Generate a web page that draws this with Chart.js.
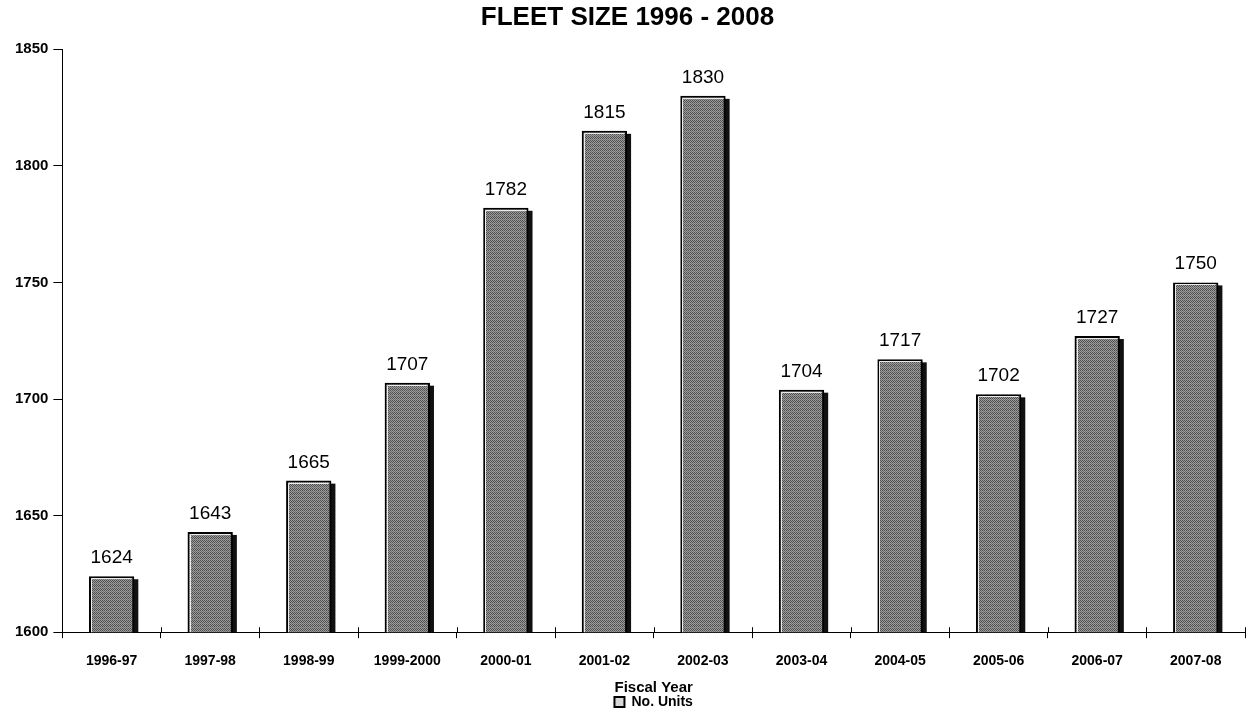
<!DOCTYPE html>
<html>
<head>
<meta charset="utf-8">
<script src="https://cdn.jsdelivr.net/npm/chart.js@4.4.1/dist/chart.umd.min.js"></script>
<style>
html,body{margin:0;padding:0;background:#fff;}
#wrap{width:1248px;height:716px;}
</style>
</head>
<body>
<div id="wrap"><canvas id="c" width="1248" height="716"></canvas></div>
<script>
const categories = ["1996-97","1997-98","1998-99","1999-2000","2000-01","2001-02","2002-03","2003-04","2004-05","2005-06","2006-07","2007-08"];
const units = [1624,1643,1665,1707,1782,1815,1830,1704,1717,1702,1727,1750];
const yTicks = [1600,1650,1700,1750,1800,1850];

const FONT = '"Liberation Sans", Arial, sans-serif';

function makePattern(){
  const p = document.createElement('canvas');
  p.width = 4; p.height = 4;
  const g = p.getContext('2d');
  g.fillStyle = '#9c9c9c'; g.fillRect(0,0,4,4);
  g.fillStyle = '#4e4e4e';
  g.fillRect(0,0,1,1); g.fillRect(2,0,1,1);
  g.fillRect(1,1,1,1); g.fillRect(3,1,1,1);
  g.fillRect(0,2,1,1); g.fillRect(2,2,1,1);
  g.fillStyle = '#6e6e6e';
  g.fillRect(1,3,1,1); g.fillRect(3,3,1,1);
  return document.getElementById('c').getContext('2d').createPattern(p,'repeat');
}

const shadowPlugin = {
  id:'shadowBars',
  beforeDatasetsDraw(chart){
    const ctx = chart.ctx;
    const meta = chart.getDatasetMeta(0);
    const bottom = chart.scales.y.getPixelForValue(chart.scales.y.min);
    ctx.save();
    ctx.fillStyle = '#111';
    meta.data.forEach(bar=>{
      const w = bar.width;
      const left = bar.x - w/2;
      ctx.fillRect(left+4, bar.y+3, w, bottom - bar.y - 3);
    });
    ctx.restore();
  }
};

const innerLinePlugin = {
  id:'innerLine',
  afterDatasetsDraw(chart){
    const ctx = chart.ctx;
    const meta = chart.getDatasetMeta(0);
    const bottom = chart.scales.y.getPixelForValue(chart.scales.y.min);
    ctx.save();
    ctx.strokeStyle = 'rgba(255,255,255,0.85)';
    ctx.lineWidth = 1;
    meta.data.forEach(bar=>{
      const w = bar.width;
      const l = Math.round(bar.x - w/2) + 2.5;
      const r = Math.round(bar.x + w/2) - 2.5;
      const t = Math.round(bar.y) + 2.5;
      ctx.beginPath();
      ctx.moveTo(l, bottom);
      ctx.lineTo(l, t);
      ctx.lineTo(r, t);
      ctx.stroke();
    });
    ctx.restore();
  }
};

const axisTickPlugin = {
  id:'axisTicksUp',
  afterDraw(chart){
    const ctx = chart.ctx;
    const xs = chart.scales.x;
    const yb = chart.scales.y.getPixelForValue(chart.scales.y.min);
    ctx.save();
    ctx.strokeStyle = '#000';
    ctx.lineWidth = 1;
    for(let i=0;i<categories.length;i++){
      const px = Math.round(xs.getPixelForValue(i) + (xs.getPixelForValue(1)-xs.getPixelForValue(0))/2) + 0.5;
      ctx.beginPath();
      ctx.moveTo(px, yb-5);
      ctx.lineTo(px, yb);
      ctx.stroke();
    }
    ctx.restore();
  }
};

const labelPlugin = {
  id:'valueLabels',
  afterDatasetsDraw(chart){
    const ctx = chart.ctx;
    const meta = chart.getDatasetMeta(0);
    ctx.save();
    ctx.font = '19px ' + FONT;
    ctx.fillStyle = '#000';
    ctx.textAlign = 'center';
    ctx.textBaseline = 'alphabetic';
    meta.data.forEach((bar,i)=>{
      ctx.fillText(String(units[i]), bar.x, bar.y - 13);
    });
    ctx.restore();
  }
};

new Chart(document.getElementById('c'), {
  type:'bar',
  data:{
    labels:categories,
    datasets:[{
      label:'No. Units',
      data:units,
      backgroundColor:makePattern(),
      borderColor:'#000',
      borderWidth:2,
      borderSkipped:false,
      barPercentage:0.46,
      categoryPercentage:1.0
    }]
  },
  options:{
    responsive:false,
    animation:false,
    layout:{padding:{left:10,right:3,top:0,bottom:-3}},
    plugins:{
      title:{display:true,text:'FLEET SIZE 1996 - 2008',color:'#000',
        font:{family:FONT,size:26,weight:'bold'},
        padding:{top:2,bottom:16}},
      legend:{display:true,position:'bottom',fullSize:false,
        labels:{color:'#000',boxWidth:10,boxHeight:10,padding:0,
          font:{family:FONT,size:14,weight:'bold'},
          generateLabels(chart){
            return [{text:'No. Units',fillStyle:'#d8d8d8',strokeStyle:'#000',lineWidth:2,datasetIndex:0}];
          }}},
      tooltip:{enabled:false}
    },
    scales:{
      x:{
        grid:{display:true,drawOnChartArea:false,drawTicks:true,tickLength:6,color:'#000',offset:true},
        border:{display:true,color:'#000',width:1},
        ticks:{color:'#000',padding:15,maxRotation:0,autoSkip:false,
          font:{family:FONT,size:14,weight:'bold'}},
        title:{display:true,text:'Fiscal Year',color:'#000',padding:{top:-5,bottom:0},
          font:{family:FONT,size:15,weight:'bold',lineHeight:1.0}}
      },
      y:{
        min:yTicks[0],max:yTicks[yTicks.length-1],
        afterBuildTicks(axis){axis.ticks = yTicks.map(v=>({value:v}));},
        grid:{display:true,drawOnChartArea:false,drawTicks:true,tickLength:9,color:'#000'},
        border:{display:true,color:'#000',width:1},
        ticks:{color:'#000',padding:5,callback:(v)=>String(v),
          font:{family:FONT,size:15,weight:'bold'}}
      }
    }
  },
  plugins:[shadowPlugin,labelPlugin,innerLinePlugin,axisTickPlugin]
});
</script>
</body>
</html>
